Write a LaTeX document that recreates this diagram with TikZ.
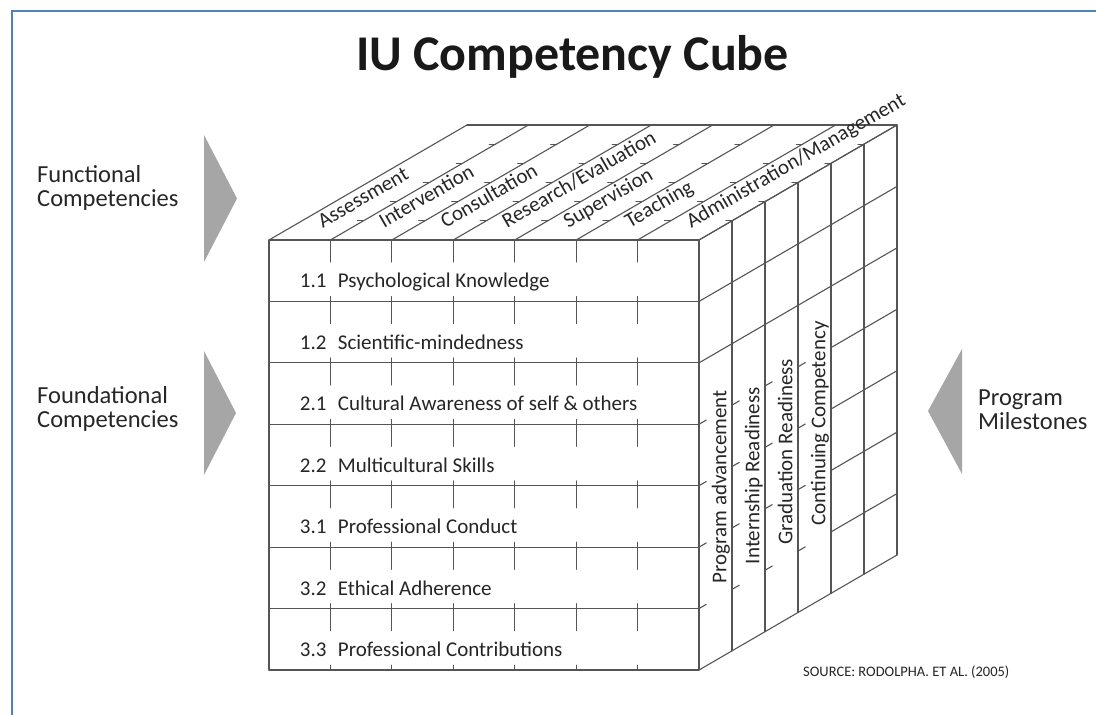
\documentclass[tikz,border=0pt]{standalone}
\usepackage{fontspec}
\setmainfont{Carlito}
\usetikzlibrary{positioning}
\definecolor{framecol}{RGB}{79,129,189}
\definecolor{arrowgray}{RGB}{166,166,166}
\definecolor{linegray}{RGB}{85,85,85}
\definecolor{textcol}{RGB}{38,38,38}

\begin{document}
\begin{tikzpicture}[x=1pt,y=-1pt,
  grid/.style={draw=linegray,line width=1.1pt,line cap=round},
  cubelabel/.style={inner sep=0pt,text=textcol,font=\fontsize{21}{24}\selectfont},
  sidelabel/.style={inner sep=0pt,text=textcol,align=left,font=\fontsize{24.5}{24}\selectfont},
  marker/.style={fill=arrowgray}]
\useasboundingbox (0,0) rectangle (1096,715);
\fill[white] (0,0) rectangle (1096,715);
\draw[framecol,line width=2pt] (12,715) -- (12,11) -- (1096,11);

\node[anchor=base,inner sep=0pt,text=black!90,font=\bfseries\fontsize{50}{56}\selectfont] (title) at (572.5,70) {IU Competency Cube};

% captions beside the cube (base = last line)
\node[sidelabel,anchor=base west] (functional) at (37,206) {Functional\\Competencies};
\node[sidelabel,anchor=base west] (foundational) at (37,427) {Foundational\\Competencies};
\node[sidelabel,anchor=base west] (milestones) at (978,429) {Program\\Milestones};
\fill[marker] (204,135) -- (237,198.5) -- (204,262) -- cycle;
\fill[marker] (204,351) -- (236,413) -- (204,475) -- cycle;
\fill[marker] (962,349) -- (928,411) -- (962,474) -- cycle;

\node[anchor=base west,inner sep=0pt,text=textcol,font=\fontsize{14.5}{16}\selectfont] (source) at (803,676) {SOURCE: RODOLPHA. ET AL. (2005)};

\begin{scope}[shift={(269,240)},x={(61.43pt,0pt)},y={(0pt,-61.43pt)},z={(33pt,19.17pt)}]
% front face: rows drawn, columns only as ticks
\foreach \r in {0,...,7} \draw[grid] (0,\r,0) -- (7,\r,0);
\draw[grid] (0,0,0) -- (0,7,0);
\foreach \u in {1,...,6}{
  \draw[grid] (\u,0,0) -- (\u,0.36,0);
  \foreach \r in {1,...,6} \draw[grid] (\u,\r-0.08,0) -- (\u,\r+0.36,0);
  \draw[grid] (\u,6.92,0) -- (\u,7,0);
}
% top face
\foreach \u in {0,...,7} \draw[grid] (\u,0,0) -- (\u,0,6);
\draw[grid] (0,0,6) -- (7,0,6);
\foreach \u in {1,...,7} \foreach \d in {1,...,5} \draw[grid] (\u-0.1,0,\d) -- (\u,0,\d);
% right face
\foreach \d in {0,...,6} \draw[grid] (7,0,\d) -- (7,7,\d);
\foreach \r in {0,1,2,7} \draw[grid] (7,\r,0) -- (7,\r,6);
\foreach \r in {3,...,6}{
  \draw[grid] (7,\r,4) -- (7,\r,6);
  \foreach \d in {0,...,3} \draw[grid] (7,\r,\d) -- (7,\r,\d+0.22);
}

\foreach \lbl [count=\i from 0] in {Assessment,Intervention,Consultation,Research/Evaluation,Supervision,Teaching,Administration/Management}
  \node[cubelabel,rotate=30,anchor=base west] (func\i) at (\i+0.55,0,0.6) {\lbl};
\foreach \num/\lbl [count=\j from 0] in {1.1/Psychological Knowledge,1.2/Scientific-mindedness,2.1/Cultural Awareness of self \& others,2.2/Multicultural Skills,3.1/Professional Conduct,3.2/Ethical Adherence,3.3/Professional Contributions}
  \node[cubelabel,anchor=base west] (found\j) at (0.5,\j+0.78,0) {\makebox[38pt][l]{\num}\lbl};
\foreach \lbl [count=\k from 0] in {Program advancement,Internship Readiness,Graduation Readiness,Continuing Competency}
  \node[cubelabel,rotate=90,anchor=base west] (mile\k) at (7,5.85,\k+0.83) {\lbl};
\end{scope}
\end{tikzpicture}
\end{document}
